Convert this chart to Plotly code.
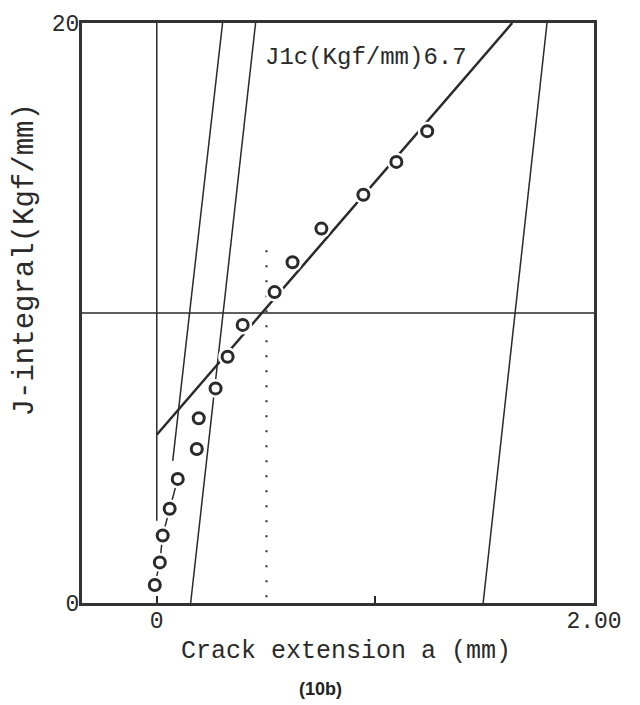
import plotly.graph_objects as go

# Data points (crack extension mm, J-integral Kgf/mm)
da = [-0.009, 0.014, 0.027, 0.059, 0.096, 0.183, 0.192, 0.269, 0.324, 0.393,
      0.539, 0.621, 0.753, 0.945, 1.096, 1.237]
J = [0.62, 1.40, 2.33, 3.25, 4.28, 5.31, 6.37, 7.40, 8.49, 9.59,
     10.72, 11.75, 12.91, 14.08, 15.21, 16.27]

# connecting line for first points
conn_n = 5

# regression line
reg_x = [0.0, 1.626]
reg_y = [5.8, 20.0]

# blunting line and offset exclusion lines
blunt_x = [0.073, 0.301]
blunt_y = [4.9, 20.0]
off1_x = [0.155, 0.452]
off1_y = [0.0, 20.0]
off2_x = [1.493, 1.785]
off2_y = [0.0, 20.0]

# x = 0 line
zero_x = [0.0, 0.0]
zero_y = [2.84, 20.0]

# horizontal line J = 10
hline_x = [-0.342, 2.0]
hline_y = [10.0, 10.0]

# dotted line at a = 0.50
dot_x = [0.502, 0.502]
dot_y = [0.2, 12.5]

x_range = [-0.342, 2.0]
y_range = [0, 20]
xtick_vals = [0, 1, 2]
xtick_text = ["0", "", "2.00"]
ytick_vals = [0, 20]
ytick_text = ["0", "20"]

INK = "#2a2a2a"
MONO = "Liberation Mono, Courier New, monospace"

fig = go.Figure()

def add_line(x, y, width=1.5, dash=None):
    fig.add_trace(go.Scatter(x=x, y=y, mode="lines",
                             line=dict(color=INK, width=width, dash=dash),
                             hoverinfo="skip", showlegend=False))

add_line(zero_x, zero_y, 1.5)
add_line(hline_x, hline_y, 1.5)
add_line(blunt_x, blunt_y, 1.5)
add_line(off1_x, off1_y, 1.5)
add_line(off2_x, off2_y, 1.5)
add_line(dot_x, dot_y, 2, "2px,13px")
add_line(reg_x, reg_y, 2.5)
add_line(da[:conn_n], J[:conn_n], 1.5)

# white halo around circles
fig.add_trace(go.Scatter(x=da, y=J, mode="markers",
                         marker=dict(symbol="circle", size=19, color="white",
                                     line=dict(width=0)),
                         hoverinfo="skip", showlegend=False))
fig.add_trace(go.Scatter(x=da, y=J, mode="markers",
                         marker=dict(symbol="circle", size=11, color="white",
                                     line=dict(color=INK, width=3)),
                         hoverinfo="skip", showlegend=False))

fig.add_annotation(x=0.484, y=18.8, text="J1c(Kgf/mm)6.7", showarrow=False,
                   xanchor="left", yanchor="middle",
                   font=dict(family=MONO, size=24, color=INK))

# axis titles as annotations for exact placement
fig.add_annotation(x=0.516, y=-0.084, xref="paper", yref="paper",
                   text="Crack extension a (mm)", showarrow=False,
                   xanchor="center", yanchor="middle",
                   font=dict(family=MONO, size=25, color=INK))
fig.add_annotation(x=-0.111, y=0.591, xref="paper", yref="paper",
                   text="J-integral(Kgf/mm)", showarrow=False, textangle=-90,
                   xanchor="center", yanchor="middle",
                   font=dict(family=MONO, size=29, color=INK))

fig.add_annotation(x=0.465, y=-0.149, xref="paper", yref="paper",
                   text="<b>(10b)</b>", showarrow=False,
                   xanchor="center", yanchor="middle",
                   font=dict(family="Liberation Sans, Arial, sans-serif", size=18, color="#222"))

fig.update_layout(
    width=640, height=705,
    margin=dict(l=82, r=46, t=19, b=102),
    plot_bgcolor="white", paper_bgcolor="white",
    font=dict(family=MONO, size=24, color=INK),
    xaxis=dict(range=x_range, showgrid=False, zeroline=False,
               showline=True, mirror=True, linecolor="#333", linewidth=3,
               tickvals=xtick_vals, ticktext=xtick_text,
               ticks="inside", ticklen=7, tickwidth=1.5, tickcolor=INK,
               ticklabelstandoff=-6,
               tickfont=dict(family=MONO, size=23, color=INK)),
    yaxis=dict(range=y_range, showgrid=False, zeroline=False,
               showline=True, mirror=True, linecolor="#333", linewidth=3,
               tickvals=ytick_vals, ticktext=ytick_text, ticks="",
               ticklabelstandoff=-5,
               tickfont=dict(family=MONO, size=23, color=INK)),
)

fig.write_html("out.html")
